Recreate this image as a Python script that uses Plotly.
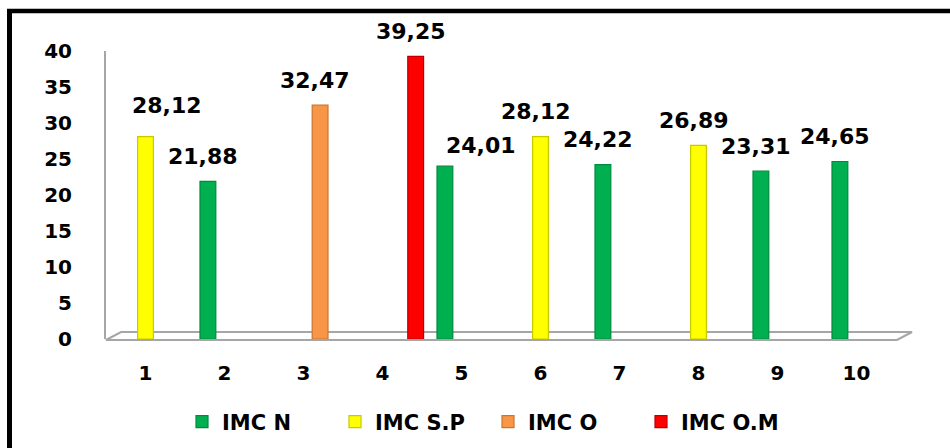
import plotly.graph_objects as go

# ---- data -------------------------------------------------------------
categories = [1, 2, 3, 4, 5, 6, 7, 8, 9, 10]
series_names = ["IMC N", "IMC S.P", "IMC O", "IMC O.M"]
imc_n = [None, 21.88, None, None, 24.01, None, 24.22, None, 23.31, 24.65]
imc_sp = [28.12, None, None, None, None, 28.12, None, 26.89, None, None]
imc_o = [None, None, 32.47, None, None, None, None, None, None, None]
imc_om = [None, None, None, 39.25, None, None, None, None, None, None]
y_ticks = [0, 5, 10, 15, 20, 25, 30, 35, 40]

series_values = [imc_n, imc_sp, imc_o, imc_om]

# ---- styling ----------------------------------------------------------
fill_colors = ["#00B050", "#FFFF00", "#F79646", "#FF0000"]
edge_colors = ["#008A3E", "#C9C900", "#C9742F", "#B80000"]
FONT = "DejaVu Sans"
SLOT = 0.21      # horizontal step between series slots (category units)
BAR_W = 0.20     # bar width (category units)

# per-bar pixel nudge for the value labels (default, plus a few moved ones)
DEFAULT_NUDGE = (-5, 25)
label_nudge = {0: (21, 31), 4: (36, 21)}

fig = go.Figure()

for i, (name, vals) in enumerate(zip(series_names, series_values)):
    fig.add_trace(go.Bar(
        x=categories,
        y=vals,
        name=name,
        width=BAR_W,
        offset=(i - 1) * SLOT - BAR_W / 2,
        marker=dict(color=fill_colors[i],
                    line=dict(color=edge_colors[i], width=1.2)),
        hoverinfo="x+y+name",
    ))

# value labels with decimal comma
annotations = []
for i, vals in enumerate(series_values):
    for k, v in zip(categories, vals):
        if v is None:
            continue
        dx, dy = label_nudge.get(k - 1, DEFAULT_NUDGE)
        annotations.append(dict(
            x=k + (i - 1) * SLOT, y=v, xref="x", yref="y",
            text=f"{v:.2f}".replace(".", ","),
            showarrow=False, xanchor="center", yanchor="middle",
            xshift=dx, yshift=dy,
            font=dict(family=FONT, size=22, color="black", weight="bold"),
        ))

# plot-area geometry in pixels, used to place the frame and floor
FIG_W, FIG_H = 950, 448
L, R, T, B = 106, 54, 51, 109
W, H = FIG_W - L - R, FIG_H - T - B


def px(xp):
    return (xp - L) / W


def py(yp):
    return (FIG_H - B - yp) / H


shapes = [
    # 3D floor under the bars
    dict(type="path", xref="paper", yref="paper", layer="below",
         path=(f"M {px(106)} {py(340)} L {px(897)} {py(340)} "
               f"L {px(912)} {py(332)} L {px(121)} {py(332)} Z"),
         line=dict(color="#A6A6A6", width=2), fillcolor="white"),
    # outer frame: left and top edges
    dict(type="line", xref="paper", yref="paper",
         x0=px(9.5), x1=px(9.5), y0=py(9), y1=py(460),
         line=dict(color="black", width=5)),
    dict(type="line", xref="paper", yref="paper",
         x0=px(7), x1=px(960), y0=py(11), y1=py(11),
         line=dict(color="black", width=4.5)),
]

fig.update_layout(
    width=FIG_W, height=FIG_H,
    margin=dict(l=L, r=R, t=T, b=B, autoexpand=False),
    paper_bgcolor="white", plot_bgcolor="white",
    barmode="overlay",
    showlegend=True,
    legend=dict(orientation="h",
                xref="container", x=488 / FIG_W, xanchor="center",
                yref="container", y=1 - 422 / FIG_H, yanchor="middle",
                font=dict(family=FONT, size=21, color="black", weight="bold"),
                entrywidth=108, entrywidthmode="pixels",
                itemclick=False),
    annotations=annotations,
    shapes=shapes,
    xaxis=dict(range=[0.5, 10.5], tickmode="array", tickvals=categories,
               ticktext=[str(c) for c in categories],
               showgrid=False, zeroline=False, showline=False, ticks="",
               ticklabelstandoff=20,
               tickfont=dict(family=FONT, size=20, color="black", weight="bold")),
    yaxis=dict(range=[0, 40], tickmode="array", tickvals=y_ticks,
               showgrid=False, zeroline=False, showline=True,
               linecolor="#A6A6A6", linewidth=2, ticks="",
               ticklabelstandoff=28,
               tickfont=dict(family=FONT, size=20, color="black", weight="bold")),
)

fig.write_html("out.html")
